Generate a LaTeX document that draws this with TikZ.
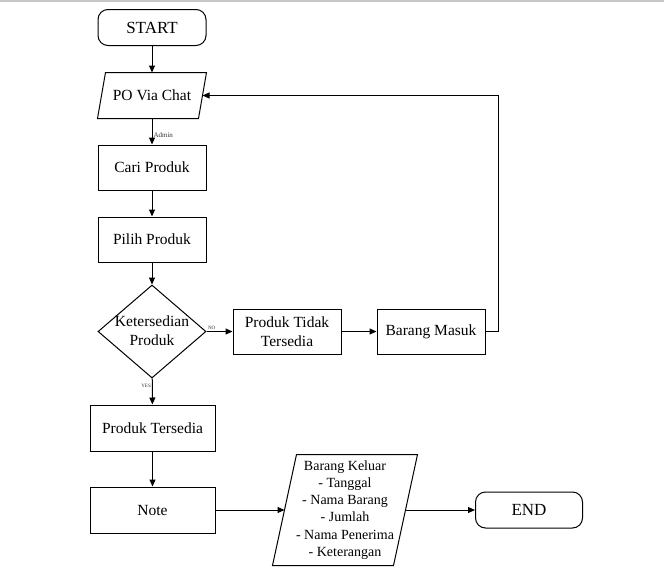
\documentclass[tikz,border=0pt]{standalone}
\usepackage{fontspec}
\setmainfont{Liberation Serif}
\usetikzlibrary{shapes.geometric,arrows.meta,calc}
\tikzset{
  every picture/.style={line width=1pt},
  box/.style={draw, rectangle, minimum width=108pt, minimum height=45pt, inner sep=0pt, align=center, font=\fontsize{15.5}{19}\selectfont},
  term/.style={draw, rectangle, rounded corners=10pt, minimum width=108pt, minimum height=36pt, inner sep=0pt, font=\fontsize{17}{20}\selectfont},
  io/.style={rectangle, inner sep=0pt, align=center},
  arr/.style={-{Triangle[length=7pt,width=6pt]}},
  tiny/.style={font=\fontsize{5}{6}\selectfont, inner sep=1pt, text=black!80},
}
\begin{document}
\begin{tikzpicture}[x=1pt,y=-1pt]
\useasboundingbox (0,0) rectangle (664,570);
\draw[line width=1.2pt, black!22] (0,1) -- (664,1);

\node[term] (start) at (152,27.5) {START};
\node[io, minimum width=100pt, minimum height=45pt, font=\fontsize{15.5}{19}\selectfont] (po) at (152,95.5) {PO Via Chat};
\draw ($(po.south west)+(-4,0)$) -- ($(po.south east)+(-4,0)$) -- ($(po.north east)+(4,0)$) -- ($(po.north west)+(4,0)$) -- cycle;
\node[box] (cari) at (152,167.5) {Cari Produk};
\node[box] (pilih) at (152,239.5) {Pilih Produk};
\node[diamond, draw, minimum width=108pt, minimum height=93pt, inner sep=0pt] (dec) at (152,331.5) {};
\node[align=center, font=\fontsize{15.5}{19}\selectfont] (dectext) at (152,331) {Ketersedian\\Produk};
\node[box] (tidak) at (287,331.5) {Produk Tidak\\Tersedia};
\node[box] (masuk) at (431,331.5) {Barang Masuk};
\node[box, minimum width=125pt, minimum height=46pt] (tersedia) at (152.5,428) {Produk Tersedia};
\node[box, minimum width=125pt, minimum height=46pt] (note) at (152.5,510) {Note};
\node[io, minimum width=120pt, minimum height=110pt, font=\fontsize{14}{17.2}\selectfont] (keluar) at (345,510) {Barang Keluar\\- Tanggal\\- Nama Barang\\- Jumlah\\- Nama Penerima\\- Keterangan};
\draw ($(keluar.south west)+(-12,0)$) -- ($(keluar.south east)+(-12,0)$) -- ($(keluar.north east)+(12,0)$) -- ($(keluar.north west)+(12,0)$) -- cycle;
\node[term, minimum width=107pt] (end) at (529,510) {END};

\draw[arr] (start) -- (po);
\draw[arr] (po) -- node[tiny, anchor=west, pos=0.62, font=\fontsize{7}{8}\selectfont] (admin) {Admin} (cari);
\draw[arr] (cari) -- (pilih);
\draw[arr] (pilih) -- (dec);
\draw[arr] (dec) -- node[tiny, anchor=south, pos=0.2] (no) {NO} (tidak);
\draw[arr] (tidak) -- (masuk);
\draw[arr] (masuk.east) -- ++(13,0) |- (po.east);
\draw[arr] (dec) -- node[tiny, anchor=east, pos=0.3] (yes) {YES} (tersedia);
\draw[arr] (tersedia) -- (note);
\draw[arr] (note) -- (keluar);
\draw[arr] (keluar) -- (end);
\end{tikzpicture}
\end{document}
